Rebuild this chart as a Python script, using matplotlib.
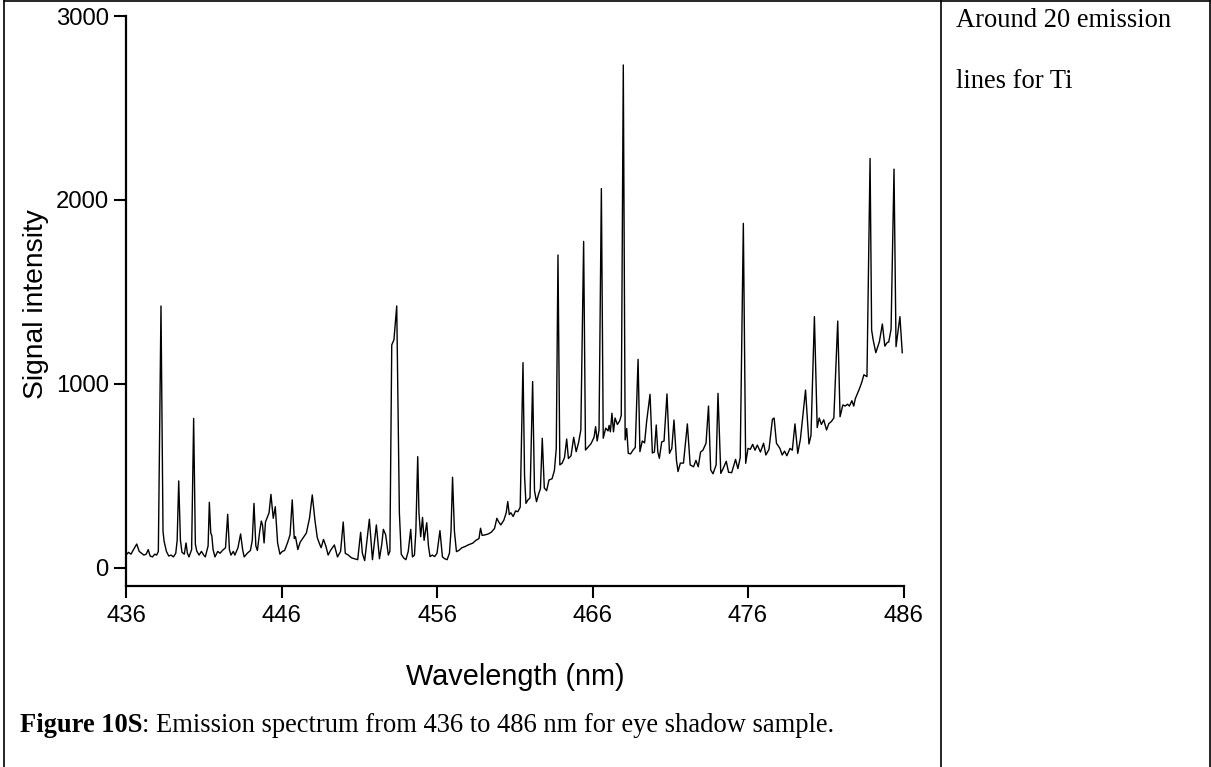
import matplotlib
matplotlib.use("Agg")
import matplotlib.pyplot as plt
from matplotlib.lines import Line2D

# ---- data ----
wavelength_nm = [
    436.00, 436.16, 436.32, 436.45, 436.69, 436.85, 437.00, 437.15, 437.30, 437.43,
    437.55, 437.70, 437.85, 437.97, 438.08, 438.25, 438.38, 438.45, 438.60, 438.75,
    438.90, 439.05, 439.20, 439.29, 439.39, 439.50, 439.60, 439.75, 439.86, 439.95,
    440.05, 440.22, 440.35, 440.46, 440.55, 440.70, 440.85, 441.00, 441.10, 441.28,
    441.36, 441.45, 441.52, 441.60, 441.72, 441.90, 442.05, 442.20, 442.40, 442.54,
    442.65, 442.75, 442.90, 443.00, 443.20, 443.37, 443.50, 443.60, 443.80, 444.00,
    444.12, 444.23, 444.35, 444.45, 444.60, 444.70, 444.78, 444.88, 444.97, 445.20,
    445.32, 445.47, 445.60, 445.75, 445.90, 446.05, 446.20, 446.40, 446.55, 446.69,
    446.82, 446.90, 447.05, 447.20, 447.40, 447.60, 447.80, 447.98, 448.15, 448.30,
    448.45, 448.55, 448.70, 448.85, 449.00, 449.15, 449.40, 449.60, 449.80, 449.97,
    450.10, 450.30, 450.50, 450.70, 450.90, 451.09, 451.20, 451.35, 451.65, 451.85,
    452.10, 452.30, 452.45, 452.55, 452.70, 452.87, 452.97, 453.09, 453.23, 453.41,
    453.58, 453.70, 453.85, 454.00, 454.15, 454.31, 454.42, 454.55, 454.64, 454.76,
    454.84, 454.95, 455.07, 455.17, 455.34, 455.45, 455.55, 455.70, 455.85, 456.00,
    456.19, 456.35, 456.50, 456.65, 456.80, 456.90, 457.00, 457.12, 457.25, 457.40,
    457.60, 457.80, 458.00, 458.30, 458.50, 458.70, 458.80, 458.90, 459.10, 459.30,
    459.50, 459.70, 459.85, 459.97, 460.10, 460.30, 460.45, 460.55, 460.65, 460.75,
    460.90, 461.05, 461.20, 461.35, 461.53, 461.63, 461.72, 461.85, 461.98, 462.15,
    462.27, 462.40, 462.55, 462.65, 462.77, 462.90, 463.05, 463.20, 463.40, 463.55,
    463.67, 463.78, 463.90, 464.05, 464.20, 464.34, 464.45, 464.62, 464.79, 464.95,
    465.10, 465.25, 465.43, 465.55, 465.75, 465.90, 466.10, 466.20, 466.30, 466.42,
    466.57, 466.69, 466.85, 467.00, 467.07, 467.15, 467.25, 467.35, 467.45, 467.60,
    467.75, 467.85, 467.98, 468.10, 468.20, 468.30, 468.45, 468.60, 468.75, 468.93,
    469.05, 469.20, 469.35, 469.48, 469.70, 469.85, 469.98, 470.10, 470.20, 470.30,
    470.45, 470.60, 470.79, 470.95, 471.10, 471.24, 471.40, 471.50, 471.65, 471.85,
    472.10, 472.28, 472.50, 472.65, 472.80, 472.95, 473.10, 473.30, 473.46, 473.60,
    473.75, 473.95, 474.07, 474.25, 474.40, 474.60, 474.75, 474.95, 475.20, 475.35,
    475.50, 475.70, 475.85, 476.00, 476.15, 476.30, 476.45, 476.60, 476.80, 477.00,
    477.15, 477.35, 477.57, 477.68, 477.83, 478.05, 478.20, 478.35, 478.50, 478.70,
    478.85, 479.02, 479.20, 479.37, 479.70, 479.92, 480.05, 480.27, 480.45, 480.58,
    480.72, 480.87, 481.05, 481.20, 481.35, 481.52, 481.77, 481.92, 482.10, 482.25,
    482.40, 482.52, 482.68, 482.80, 482.90, 483.05, 483.17, 483.32, 483.45, 483.65,
    483.85, 483.95, 484.05, 484.22, 484.45, 484.64, 484.80, 484.95, 485.05, 485.20,
    485.39, 485.52, 485.77, 485.92,
]
intensity = [
    70, 85, 75, 95, 130, 90, 80, 70, 75, 100,
    65, 60, 75, 70, 90, 1424, 200, 145, 90, 65,
    70, 60, 80, 150, 473, 150, 85, 75, 136, 80,
    60, 100, 813, 130, 92, 70, 90, 70, 60, 120,
    357, 190, 175, 100, 60, 90, 80, 95, 110, 292,
    100, 70, 90, 70, 110, 185, 100, 60, 80, 95,
    150, 351, 120, 95, 200, 255, 233, 136, 250, 300,
    400, 270, 333, 136, 75, 90, 95, 140, 180, 370,
    160, 170, 100, 140, 165, 190, 270, 397, 260, 165,
    130, 110, 155, 120, 70, 95, 125, 60, 90, 250,
    80, 70, 55, 50, 45, 194, 80, 40, 265, 45,
    234, 50, 130, 210, 180, 70, 90, 1212, 1240, 1424,
    300, 75, 55, 45, 90, 210, 60, 70, 200, 605,
    300, 170, 275, 150, 246, 120, 62, 70, 62, 80,
    203, 60, 50, 45, 80, 200, 493, 200, 89, 95,
    110, 116, 125, 135, 150, 160, 216, 177, 180, 185,
    195, 215, 270, 250, 234, 260, 300, 361, 290, 300,
    280, 310, 306, 330, 1116, 500, 351, 370, 380, 1013,
    420, 360, 406, 430, 705, 435, 420, 478, 485, 530,
    650, 1701, 560, 570, 600, 701, 595, 610, 710, 632,
    680, 750, 1775, 641, 660, 675, 710, 768, 690, 750,
    2062, 705, 760, 745, 775, 740, 841, 740, 815, 780,
    800, 830, 2734, 696, 758, 623, 620, 640, 655, 1134,
    632, 690, 680, 795, 944, 625, 630, 777, 630, 596,
    685, 690, 946, 623, 650, 804, 585, 524, 570, 570,
    783, 560, 550, 585, 550, 630, 640, 678, 880, 533,
    512, 560, 949, 514, 540, 580, 520, 518, 590, 540,
    600, 1873, 569, 650, 645, 672, 640, 668, 630, 678,
    614, 645, 808, 815, 678, 650, 614, 635, 610, 650,
    640, 783, 623, 700, 967, 674, 720, 1366, 763, 815,
    780, 805, 750, 785, 795, 815, 1342, 822, 886, 880,
    890, 880, 909, 880, 920, 950, 975, 1010, 1050, 1040,
    2226, 1293, 1239, 1170, 1230, 1326, 1206, 1225, 1228, 1297,
    2168, 1203, 1366, 1170,
]
x_ticks = [436, 446, 456, 466, 476, 486]
y_ticks = [0, 1000, 2000, 3000]
x_label = "Wavelength (nm)"
y_label = "Signal intensity"
caption_bold = "Figure 10S"
caption_rest = ": Emission spectrum from 436 to 486 nm for eye shadow sample."
side_note = ["Around 20 emission", "lines for Ti"]

W, H = 1211, 767
fig = plt.figure(figsize=(W / 100, H / 100), dpi=100)
fig.patch.set_facecolor("white")

# axes placement (pixel-based)
ax_l, ax_r, ax_t, ax_b = 126, 903.5, 16, 586
ax = fig.add_axes([ax_l / W, 1 - ax_b / H, (ax_r - ax_l) / W, (ax_b - ax_t) / H])
ax.plot(wavelength_nm, intensity, color="black", lw=1.0)
ax.set_xlim(436, 486)
ax.set_ylim(-98, 3000)
ax.set_xticks(x_ticks)
ax.set_yticks(y_ticks)
for s in ("top", "right"):
    ax.spines[s].set_visible(False)
for s in ("left", "bottom"):
    ax.spines[s].set_linewidth(1.6)
ax.tick_params(axis="both", direction="out", length=8.5, width=1.5,
               labelsize=17.2)
ax.tick_params(axis="y", pad=4.0)
ax.tick_params(axis="x", pad=5.5)
for lab in ax.get_xticklabels() + ax.get_yticklabels():
    lab.set_fontfamily("Liberation Sans")

ax.set_xlabel(x_label, fontsize=20.8, family="Liberation Sans")
ax.xaxis.label.set_va("baseline")
ax.xaxis.set_label_coords(0.5, -(685 - ax_b) / (ax_b - ax_t))
ax.set_ylabel(y_label, fontsize=20.3, family="Liberation Sans")
ax.yaxis.label.set_va("center")
ax.yaxis.set_label_coords((36 - ax_l) / (ax_r - ax_l), 0.495)

# table-like frame
def vline(x, y0, y1, lw=1.2):
    fig.add_artist(Line2D([x / W, x / W], [1 - y0 / H, 1 - y1 / H],
                          transform=fig.transFigure, color="black", lw=lw))

def hline(y, x0, x1, lw=1.2):
    fig.add_artist(Line2D([x0 / W, x1 / W], [1 - y / H, 1 - y / H],
                          transform=fig.transFigure, color="black", lw=lw))

hline(1.2, 3.5, 1210)
vline(4, 1, H)
vline(941, 1, H)
vline(1209.5, 1, H)

# caption
serif = "Liberation Serif"
t1 = fig.text(20 / W, 1 - 731.5 / H, caption_bold, fontsize=19.1, family=serif,
              weight="bold", va="baseline", ha="left")
fig.canvas.draw()
bb = t1.get_window_extent()
fig.text(bb.x1 / W, 1 - 731.5 / H, caption_rest, fontsize=19.1, family=serif,
         va="baseline", ha="left")

# side note
fig.text(956 / W, 1 - 27 / H, side_note[0], fontsize=19.1, family=serif,
         va="baseline", ha="left")
fig.text(956 / W, 1 - 88 / H, side_note[1], fontsize=19.1, family=serif,
         va="baseline", ha="left")

fig.savefig("out.png", dpi=100, facecolor="white")
